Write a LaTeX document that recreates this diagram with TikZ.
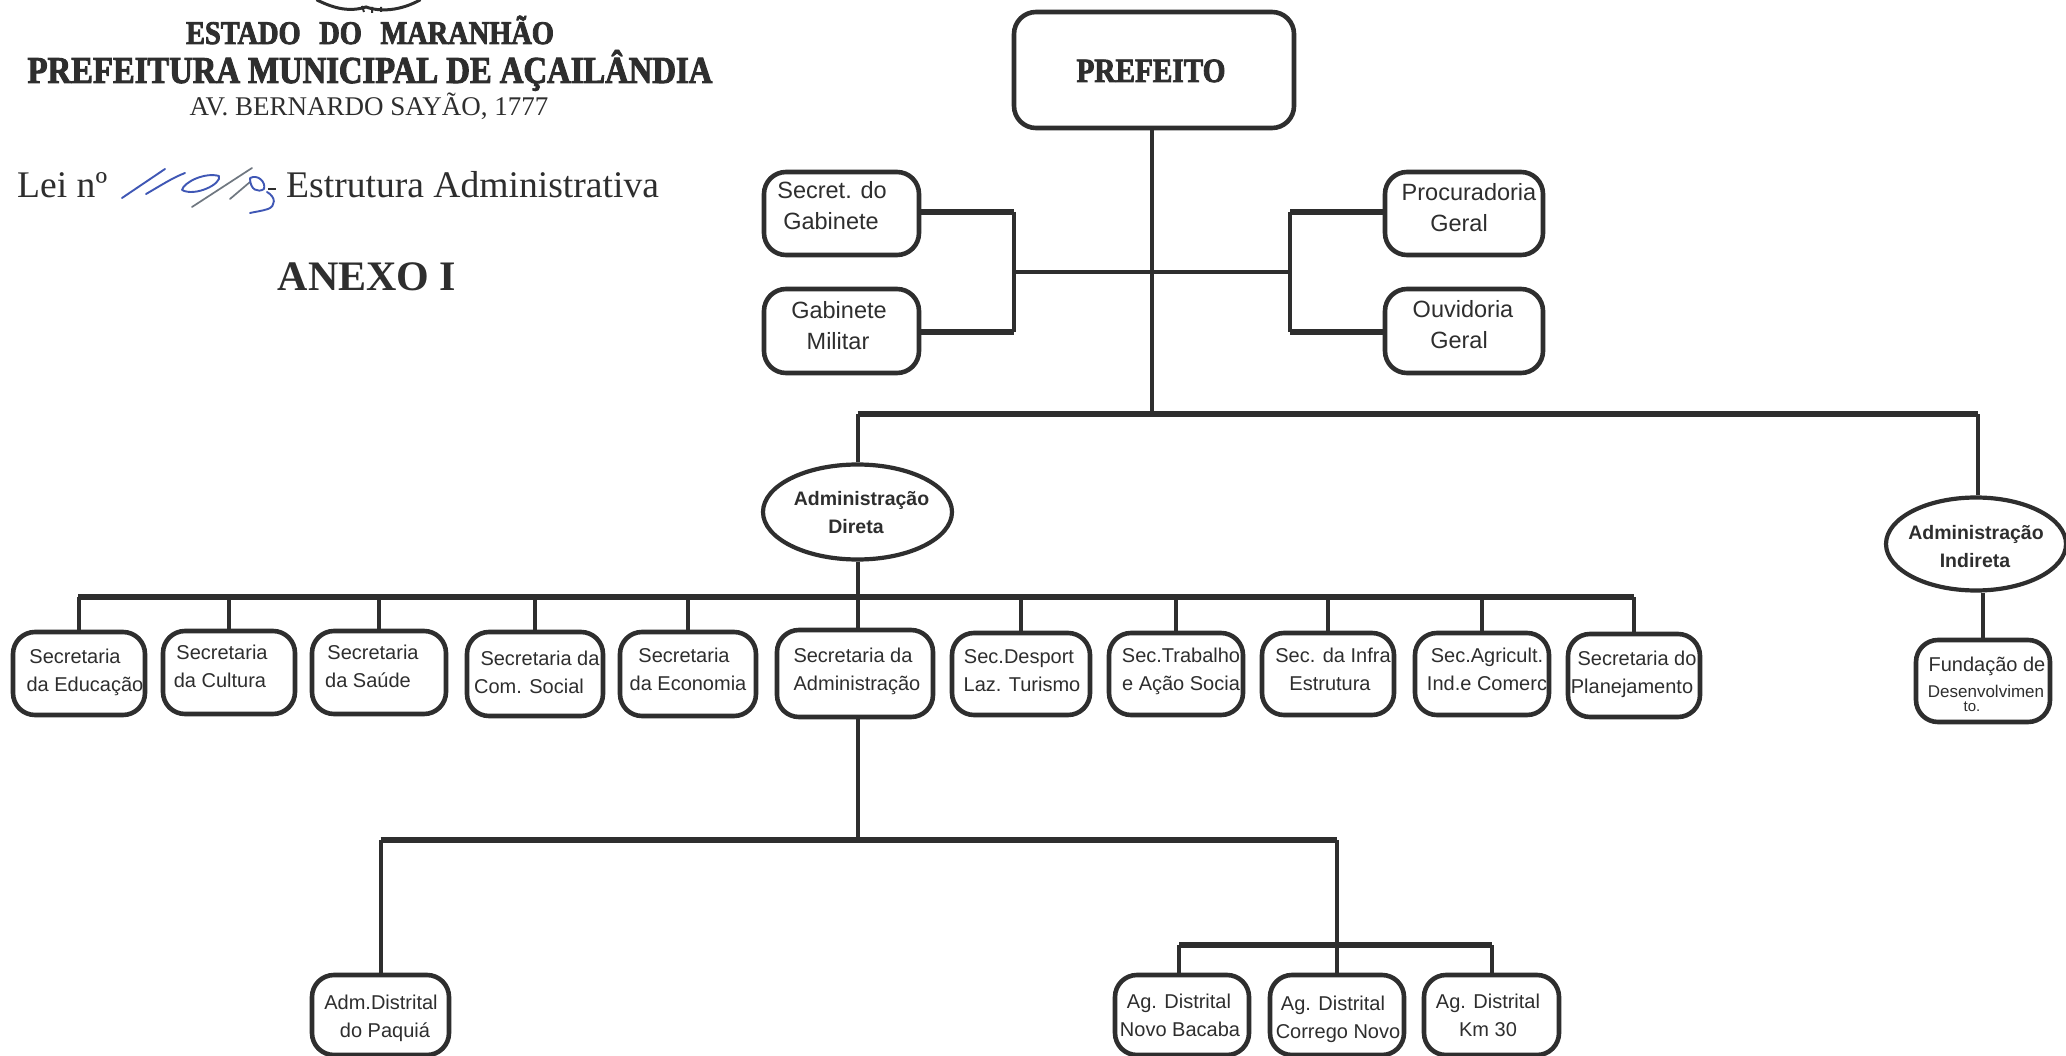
\documentclass[tikz,border=0pt]{standalone}
\usepackage{fontspec}
\usetikzlibrary{shapes.geometric}
\setmainfont{Liberation Serif}
\setsansfont{Liberation Sans}
\newfontfamily\heavy{Liberation Serif}[UprightFont=* Bold,FakeStretch=0.86,FakeBold=2.5]
\definecolor{ink}{HTML}{2E2E2E}
\definecolor{pen}{HTML}{3F57B5}
\definecolor{pengrey}{HTML}{6F7780}
% two lines of text, each centred at its own offset from the centre of its node
\newcommand\lines[5]{\raisebox{\dimexpr #1pt-.25\baselineskip\relax}[0pt][0pt]{\makebox[0pt]{\begin{tabular}{@{}c@{}}\makebox[0pt]{\hspace*{#2pt}\hspace*{#2pt}#3}\\\makebox[0pt]{\hspace*{#4pt}\hspace*{#4pt}#5}\end{tabular}}}}
\tikzset{
  x=1pt,y=-1pt,
  rbox/.style={draw=ink,line width=4.6pt,rounded corners=22pt,fill=white,inner sep=0pt,text=ink,font=\sffamily\fontsize{20}{28}\selectfont},
  bigbox/.style={rbox,font=\sffamily\fontsize{23.5}{31}\selectfont},
  oval/.style={draw=ink,line width=4.2pt,ellipse,fill=white,inner sep=0pt,text=ink,font=\sffamily\bfseries\fontsize{19.5}{28}\selectfont},
  link/.style={draw=ink,line width=4pt},
  thin link/.style={draw=ink,line width=3.4pt},
  bus/.style={draw=ink,line width=5.4pt},
  title/.style={inner sep=0pt,text=ink,anchor=base},
  pens/.style={draw=pen,line width=1.9pt,line cap=round,line join=round},
  pensg/.style={draw=pengrey,line width=1.7pt,line cap=round},
}
\begin{document}
\begin{tikzpicture}
\useasboundingbox (0,0) rectangle (2066,1056);
\fill[white] (0,0) rectangle (2066,1056);

% emblem remnant at the top edge
\draw[ink,line width=3pt,line cap=round] (317,0) .. controls (335,9) and (350,12) .. (366,7) .. controls (380,12) and (400,11) .. (420,0);
\draw[ink,line width=2pt] (362,6) -- (364,12) (372,7) -- (372,13) (381,7) -- (381,12);

% heading
\node[title,font=\heavy\fontsize{33}{33}\selectfont] (h1) at (370,44) {ESTADO\hspace{.35em} DO\hspace{.35em} MARANHÃO};
\node[title,font=\heavy\fontsize{38}{38}\selectfont] (h2) at (370,83) {PREFEITURA MUNICIPAL DE AÇAILÂNDIA};
\node[title,font=\rmfamily\fontsize{27}{27}\selectfont] (h3) at (369,116) {AV. BERNARDO SAYÃO, 1777};
\node[title,anchor=base west,font=\rmfamily\fontsize{37.6}{38}\selectfont] (lei) at (17,198) {Lei nº};
\node[title,anchor=base west,font=\rmfamily\fontsize{37.6}{38}\selectfont] (est) at (286,198) {Estrutura Administrativa};
\node[title,font=\rmfamily\bfseries\fontsize{42}{42}\selectfont] (anx) at (367,291) {ANEXO I};

% handwritten number
\draw[pens] (122,198) -- (165,169);
\draw[pens] (146,194) .. controls (160,186) and (172,178) .. (185,173);
\draw[pens] (182,190) .. controls (184,182) and (205,172) .. (219,176) .. controls (222,184) and (195,197) .. (182,190);
\draw[pensg] (192,207) -- (252,168);
\draw[pensg] (230,199) -- (250,182);
\draw[pens] (250,178) .. controls (258,174) and (266,182) .. (264,189) .. controls (258,193) and (250,190) .. (250,178);
\draw[pens] (267,192) .. controls (276,197) and (276,206) .. (268,209) .. controls (262,211) and (254,212) .. (250,213);
\draw[ink,line width=2pt] (268,189) -- (276,189);

% nodes
\node[rbox,minimum width=280pt,minimum height=116pt,font=\heavy\fontsize{34}{34}\selectfont] (pref) at (1154,70) {\raisebox{-12pt}[0pt][0pt]{\makebox[0pt]{\hspace*{-6pt}PREFEITO}}};

\node[bigbox,minimum width=155pt,minimum height=83pt] (sec) at (841.5,213.5) {\lines{7}{-9.5}{Secret. do}{-10.5}{Gabinete}};
\node[bigbox,minimum width=155pt,minimum height=84pt] (mil) at (841.5,331) {\lines{5}{-2.5}{Gabinete}{-3.5}{Militar}};
\node[bigbox,minimum width=158pt,minimum height=83pt] (pro) at (1464,213.5) {\lines{5}{5}{Procuradoria}{-5}{Geral}};
\node[bigbox,minimum width=158pt,minimum height=84pt] (ouv) at (1464,331) {\lines{6}{-1}{Ouvidoria}{-5}{Geral}};

\node[oval,minimum width=189pt,minimum height=95pt] (dir) at (857.5,512) {\lines{0}{4}{Administração}{-1.5}{Direta}};
\node[oval,minimum width=180pt,minimum height=93pt] (ind) at (1976,544) {\lines{-2}{0}{Administração}{-1}{Indireta}};

\node[rbox,minimum width=132pt,minimum height=83pt] (edu) at (79,673.5) {\lines{3.5}{-4}{Secretaria}{6}{da Educação}};
\node[rbox,minimum width=132pt,minimum height=83pt] (cul) at (229,672.5) {\lines{6.5}{-7}{Secretaria}{-9}{da Cultura}};
\node[rbox,minimum width=134pt,minimum height=83pt] (sau) at (379,672.5) {\lines{6.5}{-6}{Secretaria}{-11}{da Saúde}};
\node[rbox,minimum width=136pt,minimum height=84pt] (com) at (535,674) {\lines{2}{5}{Secretaria da}{-6}{Com. Social}};
\node[rbox,minimum width=136pt,minimum height=84pt] (eco) at (688,674) {\lines{5}{-4}{Secretaria}{0}{da Economia}};
\node[rbox,minimum width=156pt,minimum height=87pt] (adm) at (855,673.5) {\lines{4.5}{-2}{Secretaria da}{2}{Administração}};
\node[rbox,minimum width=138pt,minimum height=82pt] (des) at (1021,674) {\lines{4}{-2}{Sec.Desport}{1}{Laz. Turismo}};
\node[rbox,minimum width=134pt,minimum height=82pt] (tra) at (1176,674) {\lines{4.5}{5}{Sec.Trabalho}{5}{e Ação Socia}};
\node[rbox,minimum width=132pt,minimum height=82pt] (inf) at (1328,674) {\lines{4.5}{5}{Sec. da Infra}{2}{Estrutura}};
\node[rbox,minimum width=134pt,minimum height=82pt] (agr) at (1482,674) {\lines{4.5}{5}{Sec.Agricult.}{5}{Ind.e Comerc}};
\node[rbox,minimum width=132pt,minimum height=83pt] (pla) at (1634,675.5) {\lines{3}{3}{Secretaria do}{-2}{Planejamento}};

\node[rbox,minimum width=134pt,minimum height=82pt] (fun) at (1983,681) {\raisebox{-10pt}[0pt][0pt]{\makebox[0pt]{\begin{tabular}{@{}c@{}}\makebox[0pt]{\hspace*{8pt}Fundação de}\\[-2pt]\makebox[0pt]{\hspace*{6pt}\fontsize{17}{17}\selectfont Desenvolvimen}\\[-14pt]\makebox[0pt]{\hspace*{-22pt}\fontsize{15}{15}\selectfont to.}\end{tabular}}}};

\node[rbox,minimum width=137pt,minimum height=80pt] (paq) at (380.5,1015) {\lines{-1}{0.5}{Adm.Distrital}{4.5}{do Paquiá}};
\node[rbox,minimum width=134pt,minimum height=80pt] (nov) at (1182,1015) {\lines{0}{-3}{Ag. Distrital}{-2}{Novo Bacaba}};
\node[rbox,minimum width=134pt,minimum height=80pt] (cor) at (1337,1015) {\lines{-2.5}{-4}{Ag. Distrital}{1}{Corrego Novo}};
\node[rbox,minimum width=135pt,minimum height=80pt] (kmt) at (1491.5,1015) {\lines{0}{-3.5}{Ag. Distrital}{-3.5}{Km 30}};

% junction points
\coordinate (top) at (1152,414);
\coordinate (mid) at (1152,272);
\coordinate (jl) at (1014,272);
\coordinate (jr) at (1290,272);
\coordinate (jind) at (1978,414);
\coordinate (sb) at (78,597);
\coordinate (se) at (1634,597);
\coordinate (lowy) at (0,840);
\coordinate (agy) at (0,945);
\coordinate (u) at (0,212);
\coordinate (v) at (0,332);

% upper part
\draw[link] (pref.south -| top) -- (top);
\draw[bus] (sec.east |- u) -- (jl |- u);
\draw[bus] (mil.east |- v) -- (jl |- v);
\draw[bus] (pro.west |- u) -- (jr |- u);
\draw[bus] (ouv.west |- v) -- (jr |- v);
\draw[link] (jl |- u) -- (jl |- v);
\draw[link] (jr |- u) -- (jr |- v);
\draw[thin link] (jl) -- (jr);
\draw[bus] (dir.north |- top) -- (jind);
\draw[link] (dir.north) -- (dir.north |- top);
\draw[link] (jind) -- (jind |- ind.north);

% secretaries
\draw[link] (dir.south) -- (dir.south |- adm.north);
\draw[bus] (sb) -- (se);
\foreach \n in {edu,cul,sau,com,eco,des,tra,inf,agr,pla}
  \draw[link] (\n.north) -- (\n.north |- sb);
\draw[link] (fun.north) -- (fun.north |- ind.south);

% lower part
\draw[link] (dir.south |- adm.south) -- (dir.south |- lowy);
\draw[bus] (paq.north |- lowy) -- (cor.north |- lowy);
\draw[link] (paq.north) -- (paq.north |- lowy);
\draw[link] (cor.north |- lowy) -- (cor.north);
\draw[bus] ([xshift=-3pt]nov.north |- agy) -- (kmt.north |- agy);
\draw[link] ([xshift=-3pt]nov.north) -- ([xshift=-3pt]nov.north |- agy);
\draw[link] (kmt.north) -- (kmt.north |- agy);
\end{tikzpicture}
\end{document}
